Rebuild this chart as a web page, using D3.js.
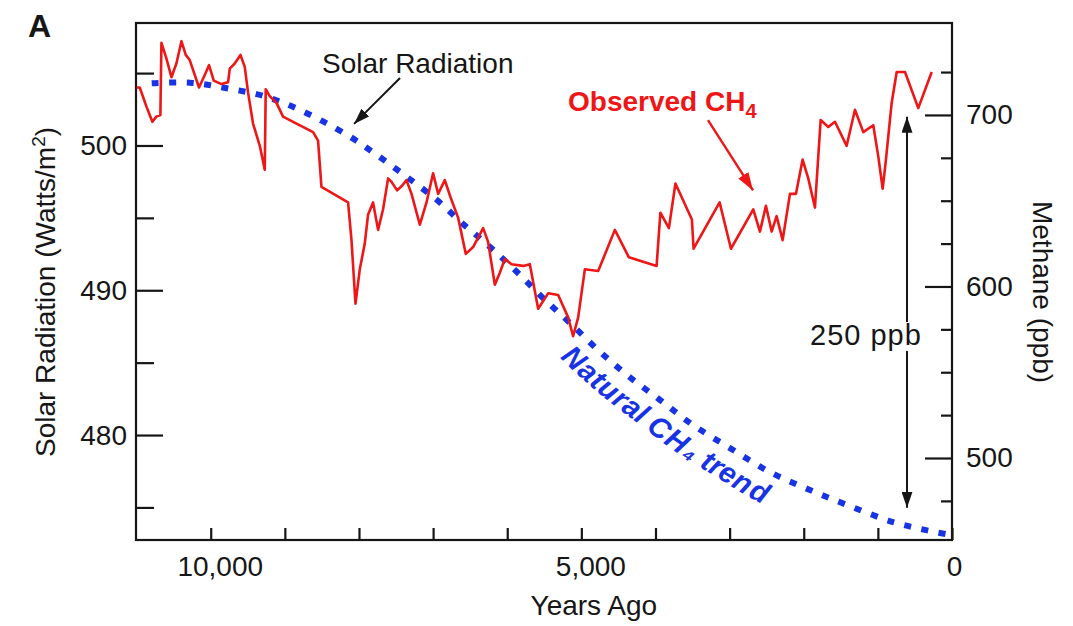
<!DOCTYPE html>
<html><head><meta charset="utf-8">
<script src="https://cdn.jsdelivr.net/npm/d3@7"></script>
<style>
html,body{margin:0;padding:0;background:#fff;}
svg{display:block;font-family:"Liberation Sans",Arial,Helvetica,sans-serif;}
</style></head><body>
<svg id="chart" width="1073" height="626"></svg>
<script>
// ---- data ----
const obsYears = [11000,10958,10868,10787,10733,10679,10665,10598,10530,10463,10395,10337,10283,10158,10094,10023,9959,9855,9766,9743,9676,9599,9541,9496,9429,9338,9271,9258,9204,9113,9024,8889,8619,8552,8506,8147,8101,8047,7989,7922,7877,7810,7742,7675,7607,7561,7486,7413,7359,7291,7179,7089,7000,6932,6842,6765,6662,6559,6460,6325,6258,6167,6100,6032,5942,5785,5695,5583,5448,5313,5178,5111,5043,4953,4773,4548,4359,3985,3934,3819,3731,3509,3486,3135,2982,2681,2591,2510,2433,2366,2285,2186,2105,2015,1939,1849,1772,1669,1579,1421,1309,1197,1062,995,935,891,814,746,634,455,274];
const obsCH4 = [716,716,705,696,699,700,742,733,722,730,743,735,732,716,722,729,720,718,719,727,730,735,728,713,695,682,668,715,711,707,699,696,690,685,658,649,627,590,610,625,642,649,633,645,663,661,656,659,662,654,636,649,666,654,662,652,640,619,623,634,626,601,608,616,613,612,613,587,596,595,582,571,582,610,609,633,617,612,643,634,660,639,622,649,622,645,632,647,632,641,627,654,654,674,663,646,697,693,696,682,703,690,694,676,657,674,707,725,725,704,725];
const trendYears = [10796,10279,9784,9290,8795,8161,7757,7352,6947,6596,6232,5868,5517,5153,4775,4384,3939,3494,2995,2455,1916,1376,796,297,0];
const trendSolar = [504.30,504.34,503.95,503.42,502.45,500.73,499.34,497.82,496.23,494.58,492.99,491.26,489.46,487.74,485.87,484.15,482.42,480.69,479.10,477.44,476.20,475.09,473.99,473.37,473.09];
const xTickValues = [10000,9000,8000,7000,6000,5000,4000,3000,2000,1000,0];
const xTickLabels = ["10,000","","","","","5,000","","","","","0"];
const solarMajor = [480,490,500];
const solarMinor = [475,485,495,505];
const ch4Major = [500,600,700];
const ch4Minor = [475,525,550,575,625,650,675,725];

// ---- layout ----
const svg = d3.select("#chart");
const L = 136, R = 952, T = 23, B = 540;
const ink = "#161616", red = "#ee1616", blue = "#1733e4";
const x = d3.scaleLinear().domain([11008, 0]).range([L, R]);
const yL = d3.scaleLinear().domain([472.75, 508.46]).range([B, T]);
const yR = d3.scaleLinear().domain([452.2, 753.6]).range([B, T]);

// defs: arrowheads
const defs = svg.append("defs");
function marker(id, color, len, wid) {
  defs.append("marker").attr("id", id)
    .attr("viewBox", `0 ${-wid/2} ${len} ${wid}`)
    .attr("refX", len).attr("refY", 0)
    .attr("markerUnits", "userSpaceOnUse")
    .attr("markerWidth", len).attr("markerHeight", wid)
    .attr("orient", "auto-start-reverse")
    .append("path").attr("d", `M0,${-wid/2}L${len},0L0,${wid/2}Z`).attr("fill", color);
}
marker("arrK", ink, 16, 11);
marker("arrR", red, 18, 12);

// axes
const fs = 28;
function styleAxis(g) {
  g.select(".domain").remove();
  g.selectAll("line").attr("stroke", ink).attr("stroke-width", 2.2);
  g.selectAll("text").attr("fill", ink).style("font-size", fs + "px")
    .style("font-family", '"Liberation Sans",Arial,sans-serif');
}
const xAxisG = svg.append("g").attr("transform", `translate(0,${B})`)
  .call(d3.axisBottom(x).tickValues(xTickValues).tickSize(-12).tickPadding(16)
    .tickFormat((d, i) => xTickLabels[i]))
  .call(styleAxis);
xAxisG.selectAll(".tick text").attr("dx", d => d === 0 ? 2 : 9);
svg.append("g").attr("transform", `translate(${L},0)`)
  .call(d3.axisLeft(yL).tickValues(solarMajor).tickSize(-27).tickPadding(9).tickFormat(d3.format("d")))
  .call(styleAxis);
svg.append("g").attr("transform", `translate(${L},0)`)
  .call(d3.axisLeft(yL).tickValues(solarMinor).tickSize(-18).tickFormat(""))
  .call(styleAxis);
svg.append("g").attr("transform", `translate(${R},0)`)
  .call(d3.axisRight(yR).tickValues(ch4Major).tickSize(-27).tickPadding(14).tickFormat(d3.format("d")))
  .call(styleAxis);
svg.append("g").attr("transform", `translate(${R},0)`)
  .call(d3.axisRight(yR).tickValues(ch4Minor).tickSize(-11).tickFormat(""))
  .call(styleAxis);

// frame
svg.append("rect").attr("x", L).attr("y", T).attr("width", R - L).attr("height", B - T)
  .attr("fill", "none").attr("stroke", ink).attr("stroke-width", 2.2);

// natural trend (dotted blue)
const trendData = trendYears.map((d, i) => ({ yr: d, v: trendSolar[i] }));
const trendLine = d3.line().x(d => x(d.yr)).y(d => yL(d.v)).curve(d3.curveCatmullRom);
const trendPath = svg.append("path").attr("id", "trendPath").datum(trendData)
  .attr("d", trendLine).attr("fill", "none").attr("stroke", blue)
  .attr("stroke-width", 6).attr("stroke-dasharray", "7,10.5");

// observed CH4 (red)
const obsData = obsYears.map((d, i) => ({ yr: d, v: obsCH4[i] }));
svg.append("path").datum(obsData)
  .attr("d", d3.line().x(d => x(d.yr)).y(d => yR(d.v)))
  .attr("fill", "none").attr("stroke", red).attr("stroke-width", 2.6)
  .attr("stroke-linejoin", "round");

// ---- annotations ----
svg.append("text").attr("x", 28).attr("y", 37).attr("fill", ink)
  .style("font-size", "32px").style("font-weight", "bold").text("A");

svg.append("text").attr("x", 322).attr("y", 73).attr("fill", ink)
  .style("font-size", fs + "px").text("Solar Radiation");
svg.append("line")
  .attr("x1", x(7446)).attr("y1", yL(504.66))
  .attr("x2", x(8067)).attr("y2", yL(501.49))
  .attr("stroke", ink).attr("stroke-width", 2).attr("marker-end", "url(#arrK)");

const obsT = svg.append("text").attr("x", 568).attr("y", 111).attr("fill", red)
  .style("font-size", fs + "px").style("font-weight", "bold");
obsT.append("tspan").text("Observed CH");
obsT.append("tspan").attr("dy", 7).style("font-size", "20px").text("4");
svg.append("line")
  .attr("x1", x(3292)).attr("y1", yR(697))
  .attr("x2", x(2684)).attr("y2", yR(656))
  .attr("stroke", red).attr("stroke-width", 2.4).attr("marker-end", "url(#arrR)");

// 250 ppb double arrow
svg.append("line")
  .attr("x1", x(607)).attr("y1", yR(699))
  .attr("x2", x(607)).attr("y2", yR(471))
  .attr("stroke", ink).attr("stroke-width", 2)
  .attr("marker-start", "url(#arrK)").attr("marker-end", "url(#arrK)");
const labelG = svg.append("g");
const bgRect = labelG.append("rect").attr("fill", "#fff");
const pT = labelG.append("text").attr("x", 810).attr("y", 345).attr("fill", ink)
  .style("font-size", "29px").style("letter-spacing", "1px").text("250 ppb");
const bb = pT.node().getBBox();
bgRect.attr("x", bb.x - 2).attr("y", bb.y + 3).attr("width", bb.width + 4).attr("height", bb.height - 3);

// Natural CH4 trend along the curve
const pn = trendPath.node();
const total = pn.getTotalLength();
let lo = 0, hi = total;
for (let k = 0; k < 40; k++) { const m = (lo + hi) / 2; if (pn.getPointAtLength(m).x < 582) lo = m; else hi = m; }
svg.append("text").attr("fill", blue)
  .style("font-size", "29px").style("font-weight", "bold").style("font-style", "italic")
  .append("textPath").attr("href", "#trendPath").attr("startOffset", lo)
  .append("tspan").attr("dy", 32).text("Natural CH\u2084 trend");

// axis titles
const lt = svg.append("text").attr("transform", "translate(55,292) rotate(-90)")
  .attr("text-anchor", "middle").attr("fill", ink).style("font-size", fs + "px");
lt.append("tspan").text("Solar Radiation (Watts/m");
lt.append("tspan").attr("dy", -10).style("font-size", "19px").text("2");
lt.append("tspan").attr("dy", 10).text(")");

svg.append("text").attr("transform", "translate(1033,292) rotate(90)")
  .attr("text-anchor", "middle").attr("fill", ink).style("font-size", fs + "px")
  .text("Methane (ppb)");

svg.append("text").attr("x", x(5000) + 12.5).attr("y", 615).attr("text-anchor", "middle")
  .attr("fill", ink).style("font-size", fs + "px").text("Years Ago");
</script>
</body></html>
